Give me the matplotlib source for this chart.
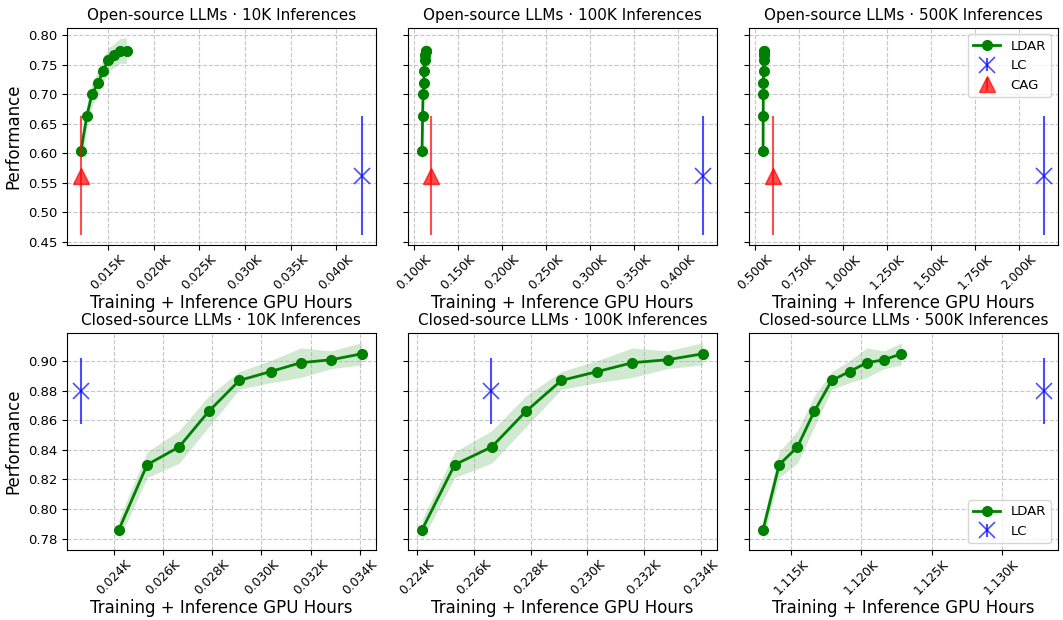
import numpy as np
import matplotlib
matplotlib.use('Agg')
import matplotlib.pyplot as plt
from matplotlib.ticker import FuncFormatter, MultipleLocator

# number of inferences (thousands) for each column
inferences_k = [10, 100, 500]
inference_labels = ['10K', '100K', '500K']

# LDAR training GPU hours for each checkpoint
open_train_hours = [1.15, 1.8, 2.35, 3.05, 3.55, 4.15, 4.8, 5.45, 6.15]
closed_train_hours = [1.98, 3.13, 4.43, 5.63, 6.88, 8.15, 9.38, 10.62, 11.85]

# GPU hours per 1K inferences
open_ldar_cost = 1.085
open_lc_cost = 4.28
open_cag_cost = 1.2
closed_ldar_cost = 2.222
closed_lc_cost = 2.266

# performance
open_ldar_perf = [0.604, 0.664, 0.700, 0.720, 0.739, 0.759, 0.766, 0.774, 0.774]
open_ldar_std = [0.018, 0.02, 0.02, 0.02, 0.02, 0.02, 0.02, 0.021, 0.022]
open_lc_perf, open_lc_err = 0.562, 0.101
open_cag_perf, open_cag_err = 0.562, 0.101

closed_ldar_perf = [0.786, 0.830, 0.842, 0.866, 0.887, 0.893, 0.899, 0.901, 0.905]
closed_ldar_std = [0.007, 0.0087, 0.011, 0.0105, 0.006, 0.0075, 0.010, 0.006, 0.0075]
closed_lc_perf, closed_lc_err = 0.880, 0.0225

# tick spacing (GPU hours) per column
open_xstep = [5, 50, 250]
closed_xstep = [2, 2, 5]


def k_fmt(x, pos):
    return f'{x/1000:.3f}K'


fig, axes = plt.subplots(2, 3, figsize=(10.63, 6.2), dpi=100, sharey='row')

for col, n in enumerate(inferences_k):
    # open-source row
    ax = axes[0, col]
    x = np.array(open_train_hours) + n * open_ldar_cost
    y = np.array(open_ldar_perf)
    s = np.array(open_ldar_std)
    ax.fill_between(x, y - s, y + s, color='green', alpha=0.18, lw=0)
    ax.plot(x, y, '-o', color='green', lw=2, ms=7, label='LDAR')
    ax.errorbar([n * open_lc_cost], [open_lc_perf], yerr=[open_lc_err], fmt='x',
                color='blue', alpha=0.7, ms=12, mew=1.2, elinewidth=1.5, label='LC')
    ax.errorbar([n * open_cag_cost], [open_cag_perf], yerr=[open_cag_err], fmt='^',
                color='red', alpha=0.7, ms=11, elinewidth=1.5, label='CAG')
    ax.set_title(f'Open-source LLMs · {inference_labels[col]} Inferences', fontsize=11)
    ax.xaxis.set_major_locator(MultipleLocator(open_xstep[col]))
    ax.yaxis.set_major_locator(MultipleLocator(0.05))

    # closed-source row
    ax2 = axes[1, col]
    x = np.array(closed_train_hours) + n * closed_ldar_cost
    y = np.array(closed_ldar_perf)
    s = np.array(closed_ldar_std)
    ax2.fill_between(x, y - s, y + s, color='green', alpha=0.18, lw=0)
    ax2.plot(x, y, '-o', color='green', lw=2, ms=7, label='LDAR')
    ax2.errorbar([n * closed_lc_cost], [closed_lc_perf], yerr=[closed_lc_err], fmt='x',
                 color='blue', alpha=0.7, ms=12, mew=1.2, elinewidth=1.5, label='LC')
    ax2.set_title(f'Closed-source LLMs · {inference_labels[col]} Inferences', fontsize=11)
    ax2.xaxis.set_major_locator(MultipleLocator(closed_xstep[col]))
    ax2.yaxis.set_major_locator(MultipleLocator(0.02))

for ax in axes.flat:
    ax.xaxis.set_major_formatter(FuncFormatter(k_fmt))
    ax.tick_params(axis='x', labelrotation=45, labelsize=8.8, pad=2)
    ax.tick_params(axis='y', labelsize=9.5)
    ax.grid(True, ls='--', alpha=0.7)
    ax.set_xlabel('Training + Inference GPU Hours', fontsize=12, labelpad=1)

axes[0, 0].set_ylabel('Performance', fontsize=12)
axes[1, 0].set_ylabel('Performance', fontsize=12)
axes[0, 2].legend(loc='upper right', fontsize=9.5)
axes[1, 2].legend(loc='lower right', fontsize=9.5)

fig.subplots_adjust(left=0.063, right=0.995, top=0.955, bottom=0.113,
                    wspace=0.105, hspace=0.405)
plt.savefig('out.png', dpi=100)
